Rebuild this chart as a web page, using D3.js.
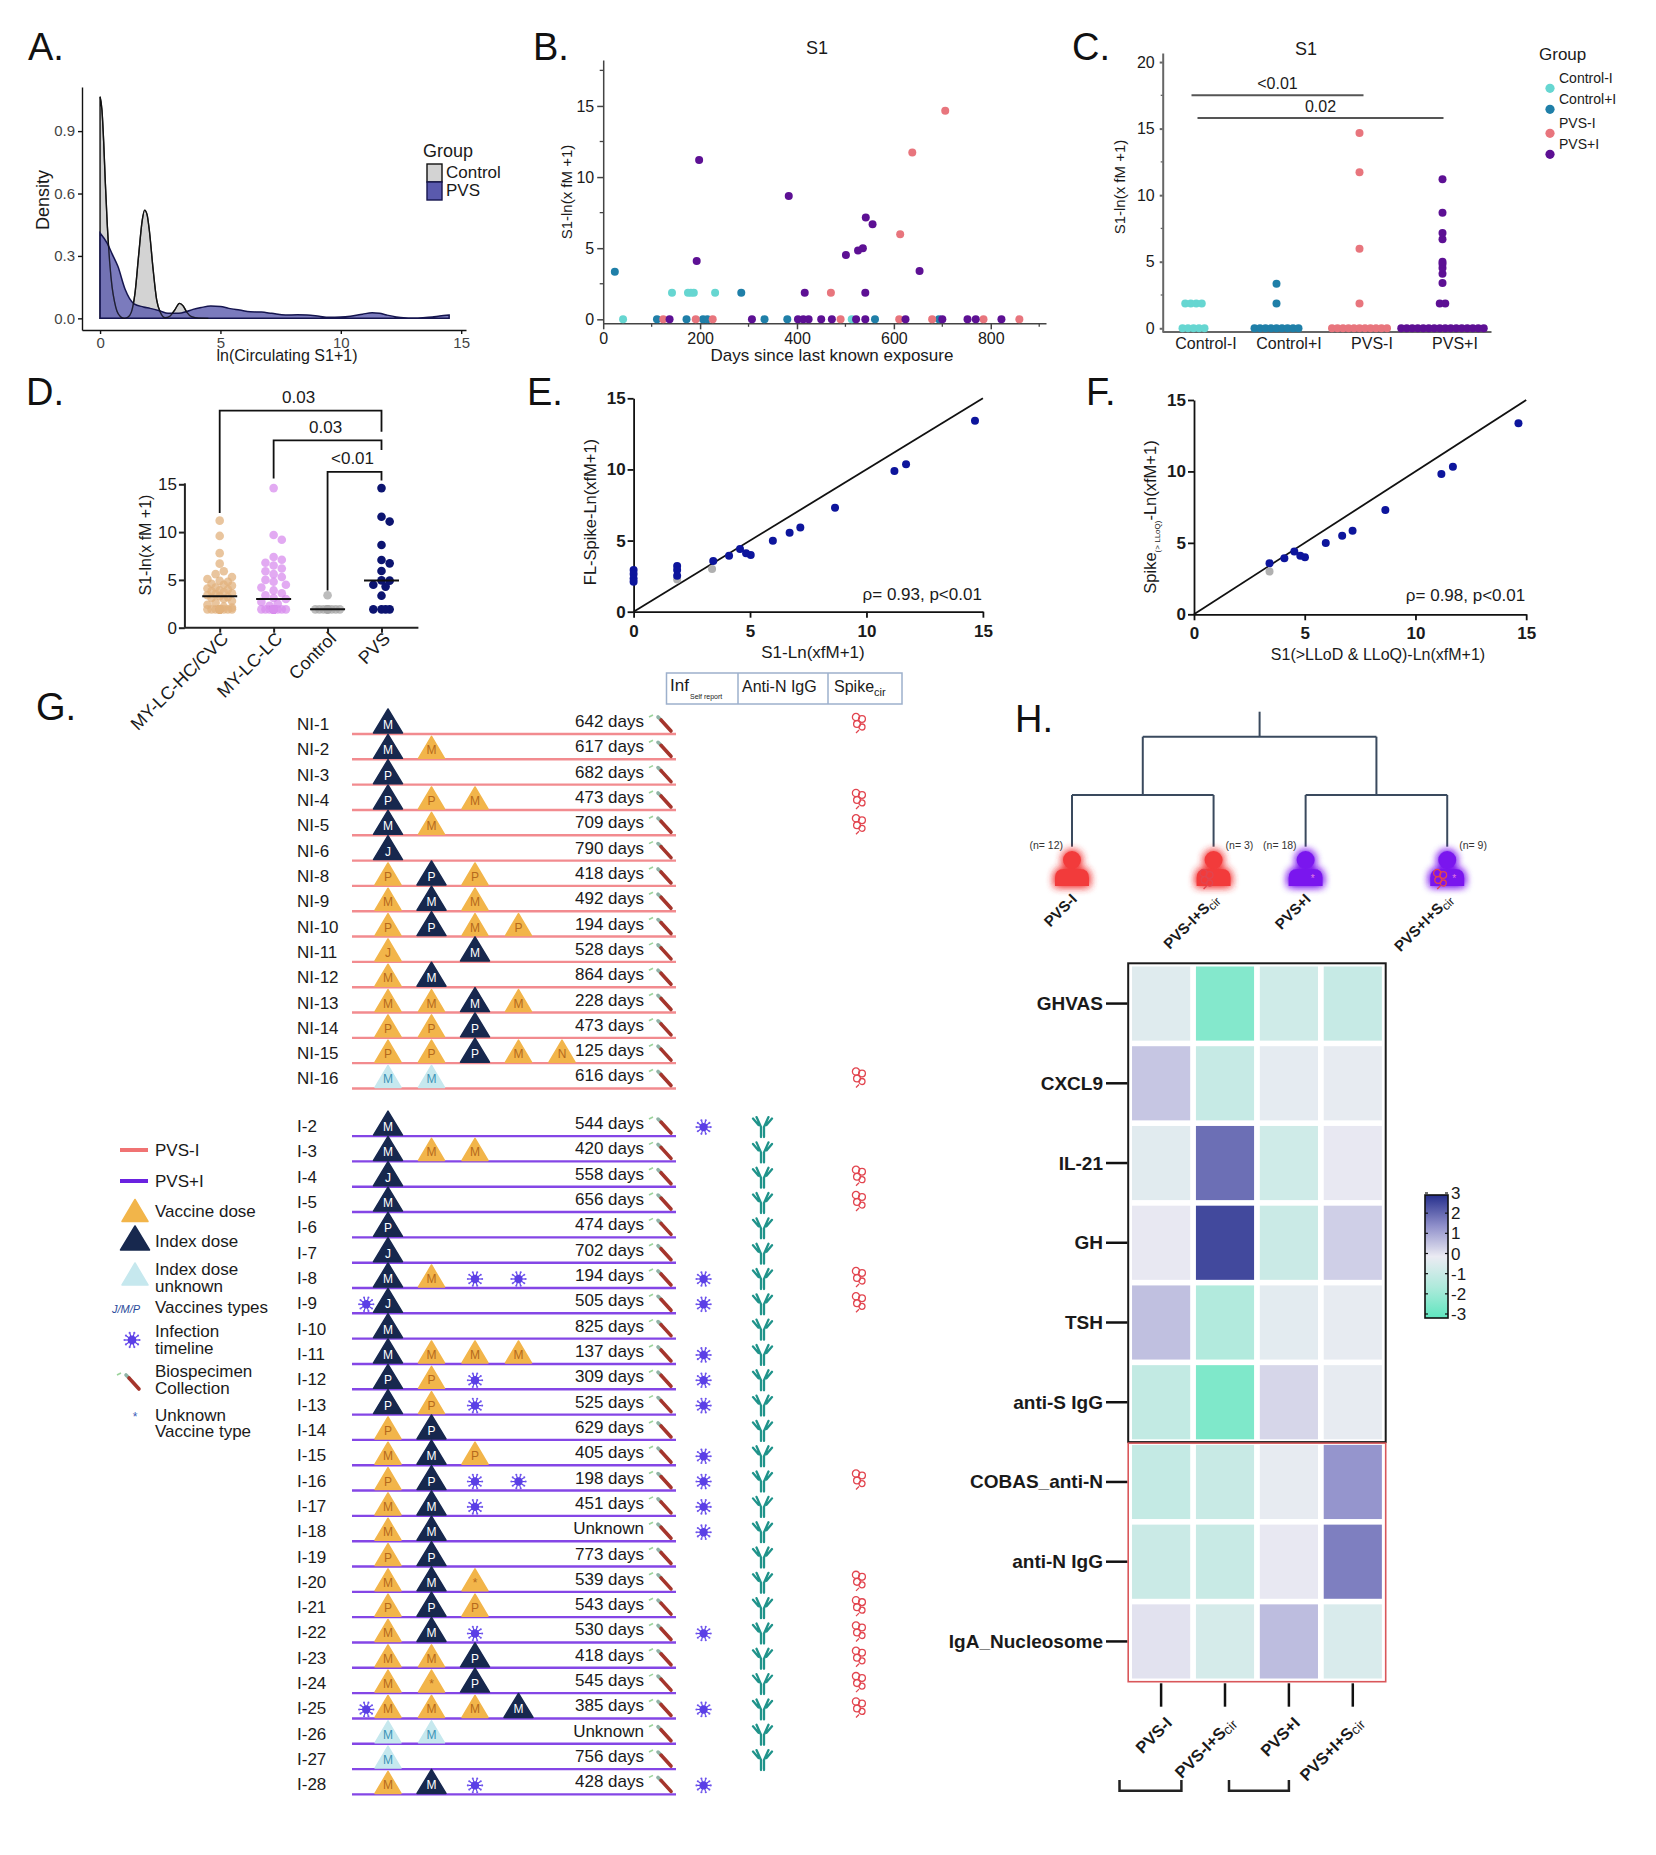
<!DOCTYPE html>
<html>
<head>
<meta charset="utf-8">
<script src="https://cdn.jsdelivr.net/npm/d3@7"></script>
<style>
body { margin: 0; background: #fff; }
svg text { font-family: "Liberation Sans", Arial, sans-serif; }
</style>
</head>
<body>
<script>
// ---------------- data ----------------
// A. density curves (x = ln(S1+1), y = density)
var aControlX = [0,0.08,0.15,0.22,0.3,0.4,0.5,0.6,0.7,0.85,1.0,1.15,1.3,1.45,1.6,1.75,1.85,1.95,2.05,2.2,2.35,2.5,2.7,2.9,3.1,3.3,3.45,3.6,3.8,4.1,4.5];
var aControlY = [1.065,1.0,0.85,0.65,0.45,0.27,0.15,0.08,0.035,0.008,0.0,0.005,0.03,0.12,0.3,0.47,0.52,0.5,0.42,0.24,0.09,0.03,0.003,0.01,0.04,0.072,0.06,0.03,0.008,0.001,0];
var aPvsX = [0,0.3,0.5,0.74,1.04,1.41,1.8,2.08,2.5,2.82,3.27,3.6,3.86,4.2,4.6,5.0,5.35,5.8,6.24,6.7,7.13,7.7,8.2,8.6,9.1,9.5,10.0,10.4,10.9,11.3,11.6,11.9,12.3,12.6,13.0,13.4,13.8,14.1,14.5];
var aPvsY = [0.41,0.36,0.31,0.25,0.14,0.07,0.055,0.048,0.035,0.024,0.024,0.033,0.043,0.052,0.059,0.057,0.048,0.04,0.032,0.03,0.024,0.016,0.017,0.016,0.01,0.005,0.006,0.01,0.02,0.027,0.024,0.016,0.007,0.003,0.002,0.003,0.006,0.011,0.016];

// B. [days since exposure, S1] per group
var grpNames = ["Control-I", "Control+I", "PVS-I", "PVS+I"];
var grpColors = ["#66d6d1", "#1f7fa8", "#e8757d", "#5d1094"];
var bControlMinus = [[41,0],[513,0],[142,1.87],[175,1.87],[181,1.87],[187,1.87],[231,1.87]];
var bControlPlus = [[24,3.35],[285,1.87],[111,0],[172,0],[206,0],[215,0],[333,0],[380,0],[561,0],[693,0]];
var bPvsMinus = [[706,14.67],[638,11.72],[613,5.98],[470,1.87],[124,0],[191,0],[226,0],[490,0],[611,0],[679,0],[785,0],[859,0]];
var bPvsPlus = [[198,11.2],[193,4.1],[383,8.67],[416,1.87],[501,4.52],[526,4.83],[536,5.0],[542,7.15],[556,6.68],[541,1.87],[653,3.4],
  [137,0],[307,0],[402,0],[413,0],[424,0],[450,0],[472,0],[522,0],[541,0],[624,0],[700,0],[752,0],[769,0],[822,0]];

// C. S1 per group
var cControlMinus = [0,0,0,0,0,1.87,1.87,1.87,1.87];
var cControlPlus = [0,0,0,0,0,0,0,0,0,1.87,3.35];
var cPvsMinus = [0,0,0,0,0,0,0,0,0,0,0,1.87,5.98,11.72,14.67];
var cPvsPlus = [0,0,0,0,0,0,0,0,0,0,0,0,0,0,0,0,1.87,1.87,3.4,4.1,4.52,4.83,5.0,6.68,7.15,8.67,11.2];
var cPairs = [["Control-I","PVS-I","<0.01",17.5],["Control-I","PVS+I","0.02",15.8]];

// D. S1 by cohort
var dCats = ["MY-LC-HC/CVC", "MY-LC-LC", "Control", "PVS"];
var dColors = ["#e2b27e", "#d88ded", "#a6a6a6", "#0c1470"];
var dHcCvc = [11.2,9.6,7.8,6.7,5.9,5.6,5.3,5.1,4.9,4.8,4.6,4.5,4.4,4.2,4.1,4.0,3.9,3.8,3.7,3.6,3.5,3.4,3.3,3.2,3.1,3.0,2.8,2.6,2.4,2.2,2.1,
  1.92,1.92,1.92,1.92,1.92,1.92,1.92,1.92,1.92,1.92,1.92,1.92,1.92,1.92];
var dLcLc = [14.6,9.7,9.2,7.4,7.1,6.8,6.5,6.2,5.9,5.6,5.3,5.0,4.8,4.5,4.2,3.9,3.6,3.4,3.1,3.0,2.7,2.5,2.3,
  1.92,1.92,1.92,1.92,1.92,1.92,1.92,1.92,1.92,1.92,1.92,1.92,1.92,1.92,1.92,1.92];
var dControl = [3.4,1.92,1.92,1.92,1.92,1.92,1.92,1.92,1.92,1.92,1.92];
var dPvs = [14.6,11.6,11.1,8.65,7.08,6.73,5.93,4.95,4.92,4.5,4.3,3.35,1.92,1.92,1.92,1.92];
// [from, to, label, bar level, left leg end, right leg end]
var dBrackets = [[0,3,"0.03",22.7,12.0,20.5],[1,3,"0.03",19.6,15.6,18.6],[2,3,"<0.01",16.3,3.9,15.4]];

// E. S1 vs full-length spike
var eS1 = [14.66,11.2,11.7,8.65,7.16,6.7,5.98,5.03,4.83,4.57,4.1,3.42,1.87,1.87,1.87,0,0,0,0];
var eFl = [13.43,9.89,10.36,7.31,5.91,5.55,4.99,3.98,4.1,4.41,3.94,3.56,3.21,2.93,2.53,2.93,2.65,2.34,2.11];
var eGreyS1 = [3.37,1.87];
var eGreyFl = [3.0,2.27];
// F. S1 (>LLoD & LLoQ) vs spike (>LLoQ)
var fS1 = [14.65,11.17,11.69,8.64,7.16,6.69,5.95,5.01,4.8,4.53,4.08,3.41];
var fSpike = [13.37,9.82,10.33,7.3,5.85,5.5,4.99,3.99,4.1,4.39,3.92,3.57];
var fGreyS1 = [3.41];
var fGreySpike = [2.99];

// G. participant timelines: i = index dose, v = vaccine dose, u = index unknown, x = infection, x< = infection before first dose
var gIds = ["NI-1","NI-2","NI-3","NI-4","NI-5","NI-6","NI-8","NI-9","NI-10","NI-11","NI-12","NI-13","NI-14","NI-15","NI-16",
  "I-2","I-3","I-4","I-5","I-6","I-7","I-8","I-9","I-10","I-11","I-12","I-13","I-14","I-15","I-16","I-17","I-18","I-19","I-20",
  "I-21","I-22","I-23","I-24","I-25","I-26","I-27","I-28"];
var gEvents = ["iM","iM vM","iP","iP vP vM","iM vM","iJ","vP iP vP","vM iM vM","vP iP vM vP","vJ _ iM","vM iM","vM vM iM vM","vP vP iP","vP vP iP vM vN","uM uM",
  "iM","iM vM vM","iJ","iM","iP","iJ","iM vM x x","x< iJ","iM","iM vM vM vM","iP vP x","iP vP x","vP iP","vM iM vP","vP iP x x","vM iM x","vM iM","vP iP","vM iM v*",
  "vP iP vP","vM iM x","vM vM iP","vM v* iP","x< vM vM vM iM","uM uM","uM","vM iM x"];
var gDays = [642,617,682,473,709,790,418,492,194,528,864,228,473,125,616,
  544,420,558,656,474,702,194,505,825,137,309,525,629,405,198,451,"Unknown",773,539,543,530,418,545,385,"Unknown",756,428];
var gInf = [0,0,0,0,0,0,0,0,0,0,0,0,0,0,0, 1,0,0,0,0,0,1,1,0,1,1,1,0,1,1,1,1,0,0,0,1,0,0,1,0,0,1];
var gAntiN = [0,0,0,0,0,0,0,0,0,0,0,0,0,0,0, 1,1,1,1,1,1,1,1,1,1,1,1,1,1,1,1,1,1,1,1,1,1,1,1,1,1,0];
var gSpike = [1,0,0,1,1,0,0,0,0,0,0,0,0,0,1, 0,0,1,1,0,0,1,1,0,0,0,0,0,0,1,0,0,0,1,1,1,1,1,1,0,0,0];

// H. clusters and heatmap (z-scores)
var hGroups = ["PVS-I", "PVS-I+S", "PVS+I", "PVS+I+S"];
var hN = [12, 3, 18, 9];
var hCluster = [0, 0, 1, 1];
var hmRows = ["GHVAS","CXCL9","IL-21","GH","TSH","anti-S IgG","COBAS_anti-N","anti-N IgG","IgA_Nucleosome"];
var hmValues = [
  [-0.3,-2.3,-0.7,-0.9],
  [0.6,-0.9,-0.15,-0.1],
  [-0.25,2.0,-0.7,0.05],
  [0.05,2.6,-0.8,0.45],
  [0.7,-1.4,-0.2,-0.1],
  [-1.0,-2.4,0.35,-0.1],
  [-0.95,-0.85,-0.1,1.4],
  [-0.8,-0.85,0.05,1.75],
  [0.15,-0.55,0.75,-0.45]
];
var cbTicks = [3,2,1,0,-1,-2,-3];

// ---------------- helpers ----------------
var svg = d3.select("body").append("svg").attr("width", 1656).attr("height", 1855);
var defs = svg.append("defs");

function txt(g, x, y, s, fs, o) {
  o = o || {};
  var t = g.append("text").attr("x", x).attr("y", y).attr("font-size", fs).text(s);
  if (o.anchor) t.attr("text-anchor", o.anchor);
  if (o.bold) t.attr("font-weight", "bold");
  t.attr("fill", o.fill || "#1a1a1a");
  if (o.rot != null) t.attr("transform", "rotate(" + o.rot + "," + x + "," + y + ")");
  return t;
}

function styleAxis(g, col, w, fs, bold, tcol) {
  g.select(".domain").attr("stroke", col).attr("stroke-width", w);
  g.selectAll(".tick line").attr("stroke", col).attr("stroke-width", w);
  g.selectAll(".tick text").attr("font-size", fs).attr("fill", tcol || "#1a1a1a")
    .attr("font-family", "'Liberation Sans', Arial, sans-serif")
    .attr("font-weight", bold ? "bold" : null);
}

function minorTicks(g, vals, fn, len, horiz, col) {
  vals.forEach(function(v) {
    if (horiz) g.append("line").attr("x1", fn(v)).attr("x2", fn(v)).attr("y1", 0).attr("y2", len).attr("stroke", col).attr("stroke-width", 1.3);
    else g.append("line").attr("y1", fn(v)).attr("y2", fn(v)).attr("x1", 0).attr("x2", -len).attr("stroke", col).attr("stroke-width", 1.3);
  });
}

// simple beeswarm: offsets so dots do not overlap much
function swarm(values, ys, r, maxW) {
  var pts = values.map(function(v) { return {v: v, y: ys(v)}; }).sort(function(a, b) { return b.v - a.v; });
  var placed = [];
  pts.forEach(function(p) {
    var best = 0, bestD = -1;
    for (var k = 0; k < 30; k++) {
      var off = (k % 2 ? 1 : -1) * Math.ceil(k / 2) * r * 0.95;
      if (Math.abs(off) > maxW) continue;
      var minD = Infinity;
      placed.forEach(function(q) { var dd = Math.hypot(q.dx - off, q.y - p.y); if (dd < minD) minD = dd; });
      if (minD >= 2 * r * 0.9) { best = off; bestD = Infinity; break; }
      if (minD > bestD + 0.5) { bestD = minD; best = off; }
    }
    p.dx = best;
    placed.push(p);
  });
  return pts;
}

// panel letters
[["A.",28,60],["B.",533,60],["C.",1072,60],["D.",26,405],["E.",527,405],["F.",1086,405],["G.",36,720],["H.",1015,732]].forEach(function(d) {
  txt(svg, d[1], d[2], d[0], 38, {fill: "#111"});
});

// ---------------- A ----------------
var gA = svg.append("g");
var ax = d3.scaleLinear().domain([-0.75, 15.2]).range([82, 466]);
var ay = d3.scaleLinear().domain([-0.056, 1.112]).range([330, 87]);
var aArea = d3.area().x(function(d) { return ax(d[0]); }).y0(ay(0)).y1(function(d) { return ay(d[1]); }).curve(d3.curveMonotoneX);
var aLine = d3.line().x(function(d) { return ax(d[0]); }).y(function(d) { return ay(d[1]); }).curve(d3.curveMonotoneX);
var aCtrl = d3.zip(aControlX, aControlY), aPvs = d3.zip(aPvsX, aPvsY);
gA.append("path").datum(aCtrl).attr("d", aArea).attr("fill", "#d3d3d3").attr("stroke", "#111").attr("stroke-width", 1.4);
gA.append("path").datum(aPvs).attr("d", aArea).attr("fill", "#5a5aad").attr("fill-opacity", 0.8).attr("stroke", "#15154f").attr("stroke-width", 1.5);
gA.append("path").datum(aCtrl).attr("d", aLine).attr("fill", "none").attr("stroke", "#111").attr("stroke-width", 1.3).attr("stroke-opacity", 0.75);
var aXAxis = gA.append("g").attr("transform", "translate(0,330)")
  .call(d3.axisBottom(ax).tickValues([0, 5, 10, 15]).tickSize(4).tickSizeOuter(0));
styleAxis(aXAxis, "#111", 1.4, 15, false, "#444");
var aYAxis = gA.append("g").attr("transform", "translate(82,0)")
  .call(d3.axisLeft(ay).tickValues([0, 0.3, 0.6, 0.9]).tickFormat(d3.format(".1f")).tickSize(4).tickSizeOuter(0));
styleAxis(aYAxis, "#111", 1.4, 15, false, "#444");
txt(gA, 49, 200, "Density", 18, {anchor: "middle", rot: -90});
txt(gA, 287, 361, "ln(Circulating S1+1)", 16, {anchor: "middle"});
txt(gA, 423, 157, "Group", 18);
gA.append("rect").attr("x", 427).attr("y", 164).attr("width", 15).attr("height", 18).attr("fill", "#d3d3d3").attr("stroke", "#111").attr("stroke-width", 1.4);
gA.append("rect").attr("x", 427).attr("y", 182).attr("width", 15).attr("height", 18).attr("fill", "#5a5aad").attr("stroke", "#15154f").attr("stroke-width", 1.4);
txt(gA, 446, 178, "Control", 17);
txt(gA, 446, 196, "PVS", 17);

// ---------------- B ----------------
var gB = svg.append("g");
var bx = d3.scaleLinear().domain([0, 914]).range([603.2, 1046]);
var by = d3.scaleLinear().domain([-0.28, 18.23]).range([323.3, 60]);
var bXAxis = gB.append("g").attr("transform", "translate(0,323.3)")
  .call(d3.axisBottom(bx).tickValues([0, 200, 400, 600, 800]).tickSize(6).tickSizeOuter(0));
styleAxis(bXAxis, "#444", 1.5, 16);
minorTicks(bXAxis, [100, 300, 500, 700, 900], bx, 3.5, true, "#444");
var bYAxis = gB.append("g").attr("transform", "translate(603.2,0)")
  .call(d3.axisLeft(by).tickValues([0, 5, 10, 15]).tickSize(6).tickSizeOuter(0));
styleAxis(bYAxis, "#444", 1.5, 16);
minorTicks(bYAxis, [2.5, 7.5, 12.5, 17.5], by, 3.5, false, "#444");
[bControlMinus, bControlPlus, bPvsMinus, bPvsPlus].forEach(function(arr, gi) {
  gB.selectAll(null).data(arr).enter().append("circle")
    .attr("cx", function(d) { return bx(d[0]); })
    .attr("cy", function(d) { return by(d[1]); })
    .attr("r", 4).attr("fill", grpColors[gi]);
});
txt(gB, 817, 54, "S1", 18, {anchor: "middle"});
txt(gB, 832, 361, "Days since last known exposure", 17, {anchor: "middle"});
txt(gB, 572, 192, "S1-ln(x fM +1)", 15, {anchor: "middle", rot: -90});

// ---------------- C ----------------
var gC = svg.append("g");
var cx = d3.scalePoint().domain(grpNames).range([1206, 1455]);
var cy = d3.scaleLinear().domain([-0.28, 20.68]).range([332, 53]);
var cYAxis = gC.append("g").attr("transform", "translate(1162.7,0)")
  .call(d3.axisLeft(cy).tickValues([0, 5, 10, 15, 20]).tickSize(3).tickPadding(5).tickSizeOuter(0));
styleAxis(cYAxis, "#666", 2, 16);
minorTicks(cYAxis, [2.5, 7.5, 12.5, 17.5], cy, 2, false, "#666");
gC.append("line").attr("x1", 1162.7).attr("x2", 1491.5).attr("y1", 332).attr("y2", 332).attr("stroke", "#666").attr("stroke-width", 2);
[cControlMinus, cControlPlus, cPvsMinus, cPvsPlus].forEach(function(vals, gi) {
  var center = cx(grpNames[gi]) - 12.5;
  d3.group(vals, function(v) { return v; }).forEach(function(list, v) {
    list.forEach(function(_, k) {
      gC.append("circle").attr("cx", center + (k - (list.length - 1) / 2) * 5.5).attr("cy", cy(v))
        .attr("r", 4).attr("fill", grpColors[gi]);
    });
  });
  txt(gC, cx(grpNames[gi]), 349, grpNames[gi], 16, {anchor: "middle"});
});
cPairs.forEach(function(p) {
  var x1 = cx(p[0]) - 12.5 + (p[1] === "PVS-I" ? -2 : 4);
  var x2 = cx(p[1]) - 12.5 + (p[1] === "PVS-I" ? 4 : 1);
  gC.append("line").attr("x1", x1).attr("x2", x2).attr("y1", cy(p[3])).attr("y2", cy(p[3])).attr("stroke", "#555").attr("stroke-width", 2);
  txt(gC, (x1 + x2) / 2, cy(p[3]) - 6, p[2], 16, {anchor: "middle"});
});
txt(gC, 1306, 55, "S1", 18, {anchor: "middle"});
txt(gC, 1125, 187, "S1-ln(x fM +1)", 15, {anchor: "middle", rot: -90});
txt(gC, 1539, 60, "Group", 17);
[88.3, 109.3, 133.3, 154.3].forEach(function(yy, i) {
  gC.append("circle").attr("cx", 1550).attr("cy", yy).attr("r", 4.6).attr("fill", grpColors[i]);
  txt(gC, 1559, yy - 5, grpNames[i], 14);
});

// ---------------- D ----------------
var gD = svg.append("g");
var dx = d3.scalePoint().domain(dCats).range([219.7, 381.5]);
var dy = d3.scaleLinear().domain([0, 15]).range([627.7, 484.3]);
var dXAxis = gD.append("g").attr("transform", "translate(0,627.7)")
  .call(d3.axisBottom(dx).tickSize(5).tickSizeOuter(0));
dXAxis.select(".domain").attr("d", "M184.9,0H418.4");
styleAxis(dXAxis, "#222", 2, 18);
dXAxis.selectAll(".tick text").attr("x", -2).attr("y", 15).attr("dy", 0)
  .attr("transform", "rotate(-45)").attr("text-anchor", "end");
var dYAxis = gD.append("g").attr("transform", "translate(184.9,0)")
  .call(d3.axisLeft(dy).tickValues([0, 5, 10, 15]).tickSize(6).tickPadding(2).tickSizeOuter(0));
dYAxis.select(".domain").attr("d", "M0,627.7V483.3");
styleAxis(dYAxis, "#222", 2, 17);
[dHcCvc, dLcLc, dControl, dPvs].forEach(function(vals, gi) {
  var xc = dx(dCats[gi]);
  var pts = swarm(vals, dy, 4.3, gi === 3 ? 15 : 16);
  gD.selectAll(null).data(pts).enter().append("circle")
    .attr("cx", function(d) { return xc + d.dx; }).attr("cy", function(d) { return d.y; })
    .attr("r", 4.3).attr("fill", dColors[gi]).attr("fill-opacity", gi === 3 ? 1 : 0.75);
  var med = d3.median(vals);
  gD.append("line").attr("x1", xc - 17.5).attr("x2", xc + 17.5).attr("y1", dy(med)).attr("y2", dy(med))
    .attr("stroke", "#111").attr("stroke-width", 2);
});
dBrackets.forEach(function(b) {
  var x1 = dx(dCats[b[0]]), x2 = dx(dCats[b[1]]);
  gD.append("path").attr("d", "M" + x1 + "," + dy(b[4]) + "V" + dy(b[3]) + "H" + x2 + "V" + dy(b[5]))
    .attr("fill", "none").attr("stroke", "#111").attr("stroke-width", 1.8);
  txt(gD, (x1 + x2) / 2 - 2, dy(b[3]) - 7.5, b[2], 17, {anchor: "middle"});
});
txt(gD, 150.5, 545, "S1-ln(x fM +1)", 16, {anchor: "middle", rot: -90});

// ---------------- E / F ----------------
function scatterPanel(o) {
  var g = svg.append("g");
  var sx = d3.scaleLinear().domain([0, 15]).range(o.xr);
  var sy = d3.scaleLinear().domain([0, 15]).range(o.yr);
  var xa = g.append("g").attr("transform", "translate(0," + o.yr[0] + ")")
    .call(d3.axisBottom(sx).tickValues([0, 5, 10, 15]).tickSize(6).tickPadding(7).tickSizeOuter(0));
  styleAxis(xa, "#111", 1.8, 17, true);
  var ya = g.append("g").attr("transform", "translate(" + o.xr[0] + ",0)")
    .call(d3.axisLeft(sy).tickValues([0, 5, 10, 15]).tickSize(6).tickPadding(2).tickSizeOuter(0));
  styleAxis(ya, "#111", 1.8, 17, true);
  g.append("line").attr("x1", sx(0)).attr("y1", sy(0)).attr("x2", sx(15)).attr("y2", sy(15)).attr("stroke", "#111").attr("stroke-width", 1.8);
  g.selectAll(null).data(d3.zip(o.gx, o.gy)).enter().append("circle")
    .attr("cx", function(d) { return sx(d[0]); }).attr("cy", function(d) { return sy(d[1]); })
    .attr("r", 4).attr("fill", "#b0b0b0");
  g.selectAll(null).data(d3.zip(o.x, o.y)).enter().append("circle")
    .attr("cx", function(d) { return sx(d[0]); }).attr("cy", function(d) { return sy(d[1]); })
    .attr("r", 4).attr("fill", "#0d159c");
  txt(g, o.xr[1] - 1, o.ann[1], o.ann[0], 17, {anchor: "end"});
  return g;
}
var gE = scatterPanel({xr: [633.6, 982.9], yr: [611.7, 398.3], x: eS1, y: eFl, gx: eGreyS1, gy: eGreyFl, ann: ["\u03c1= 0.93, p<0.01", 600]});
txt(gE, 813, 658, "S1-Ln(xfM+1)", 17, {anchor: "middle"});
txt(gE, 596, 512, "FL-Spike-Ln(xfM+1)", 16.5, {anchor: "middle", rot: -90});
var gF = scatterPanel({xr: [1194, 1526.2], yr: [614.3, 400], x: fS1, y: fSpike, gx: fGreyS1, gy: fGreySpike, ann: ["\u03c1= 0.98, p<0.01", 601]});
txt(gF, 1378, 660, "S1(>LLoD & LLoQ)-Ln(xfM+1)", 16, {anchor: "middle"});
var fy = txt(gF, 1155.5, 517, "", 16.5, {anchor: "middle", rot: -90});
fy.append("tspan").text("Spike");
fy.append("tspan").attr("font-size", 8).attr("dy", 4).text("(> LLoQ)");
fy.append("tspan").attr("dy", -4).text("-Ln(xfM+1)");

// ---------------- G ----------------
var gG = svg.append("g");
var gx = d3.scaleLinear().domain([0, 4]).range([388, 562]);
var gy = d3.scaleLinear().domain([0, 41.88]).range([734, 1794.4]);
var triStyle = {
  i: {fill: "#17284e", letter: "#ffffff", w: 29, h: 24},
  v: {fill: "#f2b54a", letter: "#b5691c", w: 26, h: 22},
  u: {fill: "#c6e8ee", letter: "#3b93b6", w: 26, h: 22}
};
function tri(g, x, base, t, letter) {
  var s = triStyle[t];
  g.append("path").attr("d", "M" + (x - s.w / 2) + "," + base + "L" + x + "," + (base - s.h) + "L" + (x + s.w / 2) + "," + base + "Z")
    .attr("fill", s.fill).attr("stroke", s.fill).attr("stroke-width", 1.5).attr("stroke-linejoin", "round");
  if (letter) txt(g, x, base - 4, letter, 12, {anchor: "middle", fill: s.letter});
}
function virus(g, x, y, s) {
  var v = g.append("g").attr("transform", "translate(" + x + "," + y + ") scale(" + s + ")");
  v.append("circle").attr("r", 4).attr("fill", "#5b3fe6");
  d3.range(10).forEach(function(k) {
    var a = k / 10 * 2 * Math.PI;
    v.append("line").attr("x1", Math.cos(a) * 3.5).attr("y1", Math.sin(a) * 3.5).attr("x2", Math.cos(a) * 6.3).attr("y2", Math.sin(a) * 6.3)
      .attr("stroke", "#5b3fe6").attr("stroke-width", 1.1);
    v.append("circle").attr("cx", Math.cos(a) * 6.8).attr("cy", Math.sin(a) * 6.8).attr("r", 1).attr("fill", "#6f55ee");
  });
}
function antibody(g, x, y) {
  g.append("path").attr("transform", "translate(" + x + "," + y + ")")
    .attr("d", "M-1.5,11V1M1.5,11V1M-1.5,1L-6,-9M1.5,1L6,-9M-4,-1L-9.5,-7.5M4,-1L9.5,-7.5")
    .attr("fill", "none").attr("stroke", "#1f938a").attr("stroke-width", 2.3).attr("stroke-linecap", "round");
}
function spike(g, x, y) {
  var s = g.append("g").attr("transform", "translate(" + x + "," + y + ")")
    .attr("fill", "none").attr("stroke", "#e2454f").attr("stroke-width", 1.3);
  [[-3, -5, 3.6], [3, -3, 3.4], [-2, 2, 3.4], [3, 5, 3]].forEach(function(c) {
    s.append("circle").attr("cx", c[0]).attr("cy", c[1]).attr("r", c[2]);
  });
  s.append("path").attr("d", "M0,8L-3,11");
}
function tube(g, x, y) {
  g.append("line").attr("x1", x + 1).attr("y1", y - 17).attr("x2", x + 5).attr("y2", y - 19).attr("stroke", "#9bd39b").attr("stroke-width", 1.6);
  g.append("line").attr("x1", x + 10).attr("y1", y - 17).attr("x2", x + 13).attr("y2", y - 14).attr("stroke", "#8fb3a6").attr("stroke-width", 3.6).attr("stroke-linecap", "round");
  g.append("line").attr("x1", x + 13).attr("y1", y - 14).attr("x2", x + 23).attr("y2", y - 3).attr("stroke", "#a5352c").attr("stroke-width", 3.6).attr("stroke-linecap", "round");
}

// header table
gG.append("rect").attr("x", 666.5).attr("y", 673).attr("width", 235.5).attr("height", 31).attr("fill", "#fff").attr("stroke", "#9db0cc").attr("stroke-width", 1.5);
[738, 828].forEach(function(xx) { gG.append("line").attr("x1", xx).attr("x2", xx).attr("y1", 673).attr("y2", 704).attr("stroke", "#9db0cc").attr("stroke-width", 1.5); });
txt(gG, 670, 691, "Inf", 17);
txt(gG, 690, 699, "Self report", 7);
txt(gG, 742, 692, "Anti-N IgG", 16);
var spH = txt(gG, 834, 692, "Spike", 16);
spH.append("tspan").attr("font-size", 11).attr("dy", 4).text("cir");

gIds.forEach(function(id, i) {
  var y = gy(i < 15 ? i : i + 0.88);
  var isNI = id.indexOf("NI") === 0;
  gG.append("line").attr("x1", 352).attr("x2", 676).attr("y1", y).attr("y2", y)
    .attr("stroke", isNI ? "#f28b8f" : "#8446e6").attr("stroke-width", 2.4);
  txt(gG, 297, y - 4, id, 17);
  var slot = 0;
  gEvents[i].split(" ").forEach(function(tok) {
    if (tok === "x<") { virus(gG, gx(-0.5), y - 9, 1.05); return; }
    var xs = gx(slot++);
    if (tok === "_") return;
    if (tok === "x") { virus(gG, xs, y - 9, 1.05); return; }
    tri(gG, xs, y - 1, tok[0], tok[1]);
  });
  txt(gG, 644, y - 7, typeof gDays[i] === "number" ? gDays[i] + " days" : gDays[i], 17, {anchor: "end"});
  tube(gG, 648, y);
  if (gInf[i]) virus(gG, 703.6, y - 9, 1.05);
  if (gAntiN[i]) antibody(gG, 762.5, y - 10);
  if (gSpike[i]) spike(gG, 859, y - 12);
});

// legend
var gL = svg.append("g");
gL.append("line").attr("x1", 120).attr("x2", 148).attr("y1", 1150).attr("y2", 1150).attr("stroke", "#f07373").attr("stroke-width", 4);
txt(gL, 155, 1156, "PVS-I", 17);
gL.append("line").attr("x1", 120).attr("x2", 148).attr("y1", 1181).attr("y2", 1181).attr("stroke", "#6a22e0").attr("stroke-width", 4);
txt(gL, 155, 1187, "PVS+I", 17);
tri(gL, 135, 1221.5, "v", "");
txt(gL, 155, 1217, "Vaccine dose", 17);
tri(gL, 135, 1250, "i", "");
txt(gL, 155, 1247, "Index dose", 17);
tri(gL, 135, 1285, "u", "");
txt(gL, 155, 1275, "Index dose", 17);
txt(gL, 155, 1292, "unknown", 17);
txt(gL, 112, 1313, "J/M/P", 11, {fill: "#2a4a9a"}).attr("font-style", "italic");
txt(gL, 155, 1313, "Vaccines types", 17);
virus(gL, 132, 1340, 1.1);
txt(gL, 155, 1337, "Infection", 17);
txt(gL, 155, 1354, "timeline", 17);
tube(gL, 116, 1392);
txt(gL, 155, 1377, "Biospecimen", 17);
txt(gL, 155, 1394, "Collection", 17);
txt(gL, 135, 1421, "*", 12, {anchor: "middle", fill: "#3b5bb8"});
txt(gL, 155, 1421, "Unknown", 17);
txt(gL, 155, 1437, "Vaccine type", 17);

// ---------------- H ----------------
var gH = svg.append("g");
var glow = defs.append("filter").attr("id", "glow").attr("x", "-60%").attr("y", "-60%").attr("width", "220%").attr("height", "220%");
glow.append("feGaussianBlur").attr("in", "SourceGraphic").attr("stdDeviation", 4).attr("result", "b");
var gm = glow.append("feMerge");
gm.append("feMergeNode").attr("in", "b");
gm.append("feMergeNode").attr("in", "b");
gm.append("feMergeNode").attr("in", "SourceGraphic");

var hRoot = d3.hierarchy({children: [0, 1].map(function(c) {
  return {children: hGroups.map(function(g, i) { return {i: i}; }).filter(function(d) { return hCluster[d.i] === c; })};
})});
d3.cluster().nodeSize([141.6, 1]).separation(function(a, b) { return a.parent === b.parent ? 1 : 0.65; })(hRoot);
var hJoinY = [736.7, 795, 846.7];
function hX(n) { return 1259.6 + n.x; }
gH.append("line").attr("x1", hX(hRoot)).attr("x2", hX(hRoot)).attr("y1", 711.7).attr("y2", hJoinY[0]).attr("stroke", "#3a4a5e").attr("stroke-width", 2);
hRoot.descendants().forEach(function(n) {
  if (n.children) {
    var xs = n.children.map(hX);
    gH.append("line").attr("x1", d3.min(xs)).attr("x2", d3.max(xs)).attr("y1", hJoinY[n.depth]).attr("y2", hJoinY[n.depth]).attr("stroke", "#3a4a5e").attr("stroke-width", 2);
  }
  if (n.parent) {
    gH.append("line").attr("x1", hX(n)).attr("x2", hX(n)).attr("y1", hJoinY[n.parent.depth]).attr("y2", hJoinY[n.depth])
      .attr("stroke", "#3a4a5e").attr("stroke-width", 2);
  }
});
hRoot.leaves().forEach(function(n) {
  var i = n.data.i, x = hX(n), col = hCluster[i] === 0 ? "#f23b3b" : "#7a16ee";
  var p = gH.append("g").attr("filter", "url(#glow)");
  p.append("circle").attr("cx", x).attr("cy", 860).attr("r", 9).attr("fill", col);
  p.append("path").attr("d", "M" + (x - 17) + ",886V878Q" + (x - 17) + ",869 " + (x - 8) + ",869H" + (x + 8) + "Q" + (x + 17) + ",869 " + (x + 17) + ",878V886Z")
    .attr("fill", col);
  if (i === 1 || i === 3) spike(gH, x - 7, 878);
  if (i >= 2) txt(gH, x + 7, 882, "*", 10, {anchor: "middle", fill: "#e27fe0"});
  if (i % 2 === 0) txt(gH, x - 9, 849, "(n= " + hN[i] + ")", 10.5, {anchor: "end", fill: "#333"});
  else txt(gH, x + 12, 849, "(n= " + hN[i] + ")", 10.5, {fill: "#333"});
  var lab = txt(gH, x + 6, 900, hGroups[i], 15, {anchor: "end", bold: true, rot: -45});
  if (i % 2 === 1) lab.append("tspan").attr("font-weight", "normal").attr("font-size", 12).attr("dy", 3).text("cir");
});

// heatmap
var hmCols = hGroups;
var hmX = d3.scaleBand().domain(hmCols).range([1128.2, 1385.7]).paddingInner(0.09).paddingOuter(0.06);
var hmY = d3.scaleBand().domain(hmRows).range([963.3, 1681.7]).paddingInner(0.07).paddingOuter(0.04);
var hmColor = d3.scaleLinear().domain([-3, -1.5, 0, 1.5, 3]).range(["#5fe6bf", "#aeeadb", "#ebebf3", "#8f8fca", "#262f8c"]).clamp(true);
hmRows.forEach(function(r, ri) {
  hmCols.forEach(function(c, ci) {
    gH.append("rect").attr("x", hmX(c)).attr("y", hmY(r)).attr("width", hmX.bandwidth()).attr("height", hmY.bandwidth())
      .attr("fill", hmColor(hmValues[ri][ci]));
  });
  var yc = hmY(r) + hmY.bandwidth() / 2;
  gH.append("line").attr("x1", 1106).attr("x2", 1127.5).attr("y1", yc).attr("y2", yc).attr("stroke", "#111").attr("stroke-width", 2.5);
  txt(gH, 1103, yc + 6.5, r, 19, {anchor: "end", bold: true});
});
var splitY = (hmY("anti-S IgG") + hmY.bandwidth() + hmY("COBAS_anti-N")) / 2;
gH.append("rect").attr("x", 1128.2).attr("y", 963.3).attr("width", 257.5).attr("height", splitY - 963.3)
  .attr("fill", "none").attr("stroke", "#1a1a1a").attr("stroke-width", 2);
gH.append("rect").attr("x", 1128.2).attr("y", splitY + 1).attr("width", 257.5).attr("height", 1681.7 - splitY - 1)
  .attr("fill", "none").attr("stroke", "#d9575a").attr("stroke-width", 1.6);
var hmCenters = hmCols.map(function(c) { return hmX(c) + hmX.bandwidth() / 2; });
hmCols.forEach(function(c, ci) {
  var xc = hmCenters[ci];
  gH.append("line").attr("x1", xc).attr("x2", xc).attr("y1", 1683.3).attr("y2", 1706.7).attr("stroke", "#111").attr("stroke-width", 2.5);
  var lab = txt(gH, xc + 12, 1724, c, 16.5, {anchor: "end", bold: true, rot: -45});
  if (ci % 2 === 1) lab.append("tspan").attr("font-weight", "normal").attr("font-size", 13.5).attr("dy", 2).text("cir");
});
// group brackets under the heatmap
[[hmCenters[0] - 41.6, hmCenters[1] - 43.6], [hmCenters[1] + 4, hmCenters[2]]].forEach(function(b) {
  gH.append("path").attr("d", "M" + b[0] + ",1780V1790.7H" + b[1] + "V1780").attr("fill", "none").attr("stroke", "#222").attr("stroke-width", 2.5);
});
// colour bar
var cbY = d3.scaleLinear().domain([-3, 3]).range([1314, 1193]);
var grad = defs.append("linearGradient").attr("id", "cbar").attr("x1", 0).attr("x2", 0).attr("y1", 1).attr("y2", 0);
d3.range(-3, 3.01, 0.5).forEach(function(v) {
  grad.append("stop").attr("offset", (v + 3) / 6).attr("stop-color", hmColor(v));
});
gH.append("rect").attr("x", 1425).attr("y", 1195).attr("width", 23).attr("height", 123).attr("fill", "url(#cbar)").attr("stroke", "#111").attr("stroke-width", 1.6);
cbTicks.forEach(function(v) {
  gH.append("line").attr("x1", 1425).attr("x2", 1428).attr("y1", cbY(v)).attr("y2", cbY(v)).attr("stroke", "#111").attr("stroke-width", 1.2);
  gH.append("line").attr("x1", 1445).attr("x2", 1448).attr("y1", cbY(v)).attr("y2", cbY(v)).attr("stroke", "#111").attr("stroke-width", 1.2);
  txt(gH, 1451, cbY(v) + 6, String(v), 17);
});
</script>
</body>
</html>
